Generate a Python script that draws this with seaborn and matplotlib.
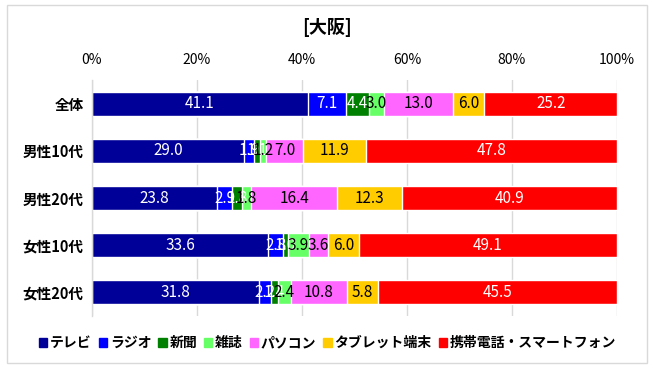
import matplotlib
matplotlib.use("Agg")
import matplotlib.pyplot as plt
import seaborn as sns
import pandas as pd
import numpy as np
from matplotlib.patches import Rectangle

categories = ["全体", "男性10代", "男性20代", "女性10代", "女性20代"]
media = ["テレビ", "ラジオ", "新聞", "雑誌", "パソコン", "タブレット端末", "携帯電話・スマートフォン"]
tv      = [41.1, 29.0, 23.8, 33.6, 31.8]
radio   = [7.1, 1.9, 2.9, 2.8, 2.2]
paper   = [4.4, 1.1, 1.8, 1.0, 1.4]
magazine = [3.0, 1.2, 1.8, 3.9, 2.4]
pc      = [13.0, 7.0, 16.4, 3.6, 10.8]
tablet  = [6.0, 11.9, 12.3, 6.0, 5.8]
mobile  = [25.2, 47.8, 40.9, 49.1, 45.5]
xticks = [0, 20, 40, 60, 80, 100]
xtick_labels = ["0%", "20%", "40%", "60%", "80%", "100%"]

colors = ["#000099", "#0000FF", "#008000", "#66FF66", "#FF66FF", "#FFCC00", "#FF0000"]
text_colors = ["white", "white", "white", "black", "black", "black", "white"]

sns.set_theme(style="white")
plt.rcParams["font.family"] = ["Noto Sans CJK JP", "DejaVu Sans"]
plt.rcParams["text.color"] = "black"
plt.rcParams["xtick.color"] = "black"
plt.rcParams["ytick.color"] = "black"

series = [tv, radio, paper, magazine, pc, tablet, mobile]
vals = np.array(series, dtype=float)  # shape (7, 5)
totals = vals.sum(axis=0)
pct = vals / totals * 100
cum = np.cumsum(pct, axis=0)

fig = plt.figure(figsize=(6.55, 3.70), dpi=100)
ax = fig.add_axes([92 / 655, 1 - 316 / 370, (617 - 92) / 655, (316 - 80) / 370])

# draw layered cumulative bars, from the full stack down to the first segment
for i in range(len(media) - 1, -1, -1):
    df = pd.DataFrame({"cat": categories, "val": cum[i]})
    sns.barplot(data=df, x="val", y="cat", orient="h", color=colors[i],
                saturation=1, width=0.51, ax=ax)

# labels
for i in range(len(media)):
    for j in range(len(categories)):
        center = cum[i][j] - pct[i][j] / 2
        ax.text(center, j, f"{series[i][j]:.1f}", ha="center", va="center",
                color=text_colors[i], fontsize=11)

ax.set_xlim(0, 100)
ax.set_ylim(4.5, -0.5)
ax.set_xlabel("")
ax.set_ylabel("")
ax.xaxis.tick_top()
ax.set_xticks(xticks)
ax.set_xticklabels(xtick_labels, fontsize=10)
ax.tick_params(axis="x", length=0, pad=9, colors="black")
ax.tick_params(axis="y", length=0, pad=6, colors="black")
for lbl in ax.get_yticklabels():
    lbl.set_fontweight("bold")
    lbl.set_fontsize(10.5)
ax.grid(axis="x", color="#D9D9D9", linewidth=1)
ax.set_axisbelow(True)
for s in ["top", "right", "bottom"]:
    ax.spines[s].set_visible(False)
ax.spines["left"].set_color("#D9D9D9")
ax.spines["left"].set_linewidth(1)
if ax.get_legend() is not None:
    ax.get_legend().remove()

# legend
handles = [Rectangle((0, 0), 1, 1, color=c) for c in colors]
leg = fig.legend(handles, media, loc="center", bbox_to_anchor=(0.5, 1 - 343 / 370),
                 ncol=7, frameon=False, handlelength=0.6, handleheight=0.6,
                 handletextpad=0.2, columnspacing=0.5,
                 prop={"weight": "bold", "size": 10})
for t in leg.get_texts():
    t.set_color("black")

fig.text(0.5, 1 - 27 / 370, "[大阪]", ha="center", va="center",
         fontsize=13, fontweight="bold", color="black")

fig.patches.append(Rectangle((7 / 655, 1 - 363 / 370), 640 / 655, 358 / 370,
                             transform=fig.transFigure, fill=False,
                             edgecolor="#D9D9D9", linewidth=1))

fig.savefig("out.png", dpi=100)
